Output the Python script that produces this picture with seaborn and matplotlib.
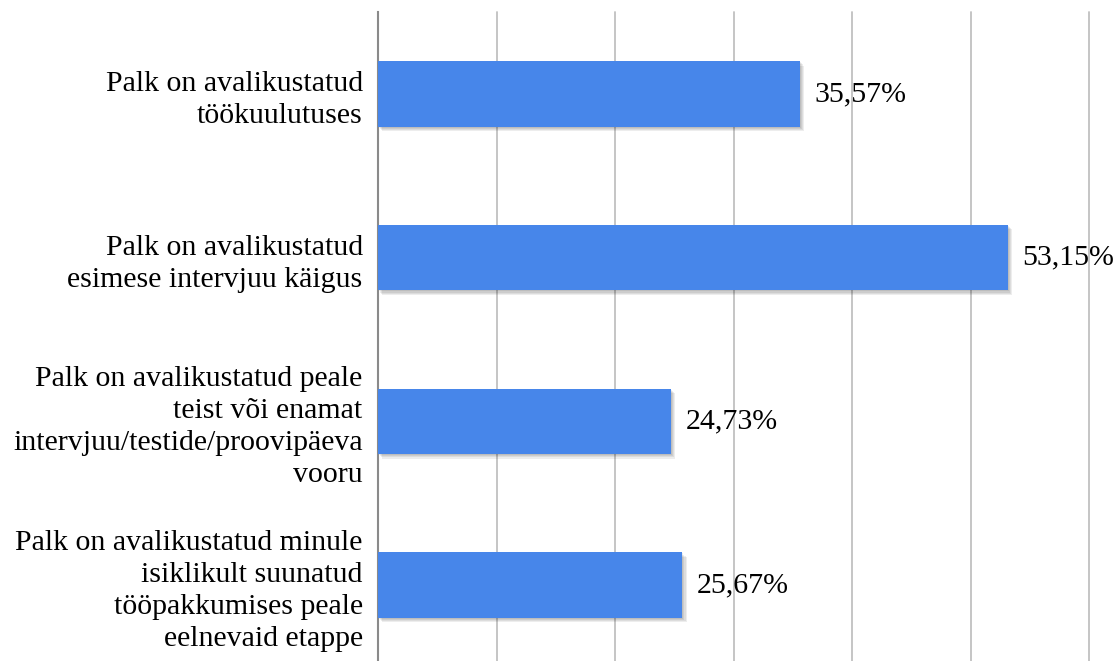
import matplotlib
matplotlib.use("Agg")
import matplotlib.pyplot as plt
import matplotlib.patheffects as pe
import seaborn as sns
import pandas as pd

categories = [
    "Palk on avalikustatud\ntöökuulutuses",
    "Palk on avalikustatud\nesimese intervjuu käigus",
    "Palk on avalikustatud peale\nteist või enamat\nintervjuu/testide/proovipäeva\nvooru",
    "Palk on avalikustatud minule\nisiklikult suunatud\ntööpakkumises peale\neelnevaid etappe",
]
values = [35.57, 53.15, 24.73, 25.67]
value_labels = ["35,57%", "53,15%", "24,73%", "25,67%"]
x_ticks = [0, 10, 20, 30, 40, 50, 60]

df = pd.DataFrame({"kategooria": categories, "osakaal": values})

sns.set_style("white")
plt.rcParams["font.family"] = ["Liberation Serif", "DejaVu Serif"]

fig = plt.figure(figsize=(11.16, 6.61), dpi=100)
ax = fig.add_axes([378 / 1116, -6 / 661, 711 / 1116, 655 / 661])

sns.barplot(data=df, x="osakaal", y="kategooria", color="#4786EA",
            saturation=1, width=0.40, linewidth=0, ax=ax, zorder=3)

# soft drop shadow built from several faint offset copies
shadow = [
    pe.SimplePatchShadow(offset=(o, -o), shadow_rgbFace="black", alpha=0.07)
    for o in (0.8, 1.6, 2.4, 3.2)
]
for patch in ax.patches:
    patch.set_path_effects(shadow + [pe.Normal()])

ax.set_xlim(0, 60)
ax.set_xticks(x_ticks)
ax.set_xticklabels([])
ax.tick_params(axis="x", length=0)
ax.xaxis.grid(True, color="#c0c0c0", linewidth=1.3, zorder=0)
ax.yaxis.grid(False)
ax.set_axisbelow(True)
for gl in ax.get_xgridlines():
    gl.set_clip_on(False)

for side in ["top", "right", "bottom"]:
    ax.spines[side].set_visible(False)
ax.spines["left"].set_color("#8a8a8a")
ax.spines["left"].set_linewidth(1.5)

ax.set_xlabel("")
ax.set_ylabel("")
ax.set_yticks(range(len(categories)))
ax.set_yticklabels(categories, fontsize=21.5, color="black",
                   ha="right", multialignment="right", linespacing=1.3)
ax.tick_params(axis="y", length=0, pad=11)

for i, (v, t) in enumerate(zip(values, value_labels)):
    ax.annotate(t, xy=(v, i), xytext=(10.5, 0), textcoords="offset points",
                ha="left", va="center", fontsize=21.5, color="black", zorder=5)

fig.savefig("out.png", dpi=100)
